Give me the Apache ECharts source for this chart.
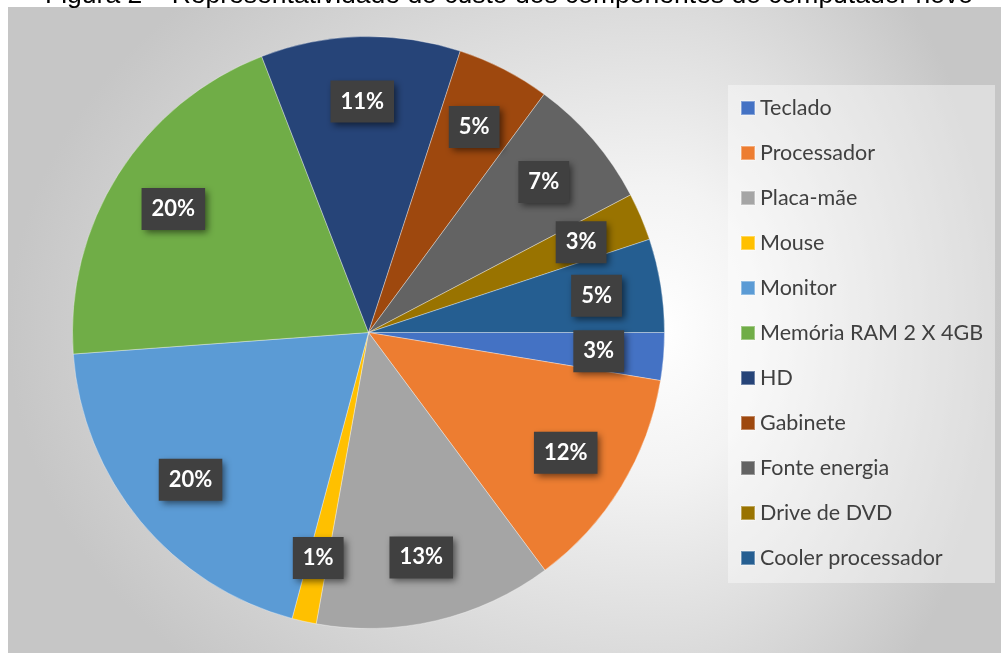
<!DOCTYPE html>
<html>
<head>
<meta charset="utf-8">
<script src="https://cdn.jsdelivr.net/npm/echarts@6/dist/echarts.min.js"></script>
<style>
html,body{margin:0;padding:0;background:#ffffff;}
#chart{width:1001px;height:653px;}
</style>
</head>
<body>
<div id="chart"></div>
<script>
const titleText = 'Figura 2 – Representatividade do custo dos componentes do computador novo';
const categories = ['Teclado', 'Processador', 'Placa-mãe', 'Mouse', 'Monitor', 'Memória RAM 2 X 4GB', 'HD', 'Gabinete', 'Fonte energia', 'Drive de DVD', 'Cooler processador'];
const shares = [2.6, 12.25, 13.0, 1.33, 19.7, 20.3, 10.9, 5.1, 7.2, 2.6, 5.1];
const colors = ['#4472C4', '#ED7D31', '#A5A5A5', '#FFC000', '#5B9BD5', '#70AD47', '#264478', '#9E480E', '#636363', '#997300', '#255E91'];

const pieData = categories.map((name, i) => ({ name: name, value: shares[i] }));

const chart = echarts.init(document.getElementById('chart'), null, { renderer: 'canvas' });

function bgGradient(cx) {
  return new echarts.graphic.RadialGradient(cx, 0.5, 1, [
    { offset: 0, color: '#ffffff' },
    { offset: 0.3, color: '#f3f3f3' },
    { offset: 1, color: '#c6c6c6' }
  ]);
}

const option = {
  animation: false,
  color: colors,
  title: {
    text: titleText,
    left: 45,
    top: -18,
    padding: 0,
    textStyle: { fontFamily: 'Liberation Sans', fontSize: 26.5, fontWeight: 'normal', color: '#000000' }
  },
  graphic: [
    {
      type: 'rect', x: 8, y: 7, scaleX: 652 / 480, z: -10, silent: true,
      shape: { x: 0, y: 0, width: 480, height: 646 },
      style: { fill: bgGradient(1) }
    },
    {
      type: 'rect', x: 660, y: 7, scaleX: 341 / 480, z: -10, silent: true,
      shape: { x: 0, y: 0, width: 480, height: 646 },
      style: { fill: bgGradient(0) }
    }
  ],
  legend: {
    orient: 'vertical',
    left: 728,
    top: 85,
    padding: [12, 12, 14, 12],
    itemWidth: 14,
    itemHeight: 14,
    itemGap: 23,
    icon: 'rect',
    backgroundColor: 'rgba(255,255,255,0.4)',
    textStyle: { fontFamily: 'Lato', fontSize: 21.5, color: '#404040', lineHeight: 22 },
    data: categories
  },
  series: [
    {
      type: 'pie',
      name: 'custo',
      center: [368.5, 332.5],
      radius: [0, 296],
      startAngle: 0,
      clockwise: true,
      avoidLabelOverlap: false,
      label: { show: false },
      labelLine: { show: false },
      itemStyle: { borderColor: 'rgba(255,255,255,0.35)', borderWidth: 1 },
      emphasis: { disabled: true },
      data: pieData
    },
    {
      type: 'pie',
      name: 'rotulos',
      silent: true,
      center: [368.5, 332.5],
      radius: [160, 296],
      startAngle: 0,
      clockwise: true,
      avoidLabelOverlap: false,
      itemStyle: { color: 'transparent', borderWidth: 0 },
      labelLine: { show: false },
      emphasis: { disabled: true },
      label: {
        show: true,
        position: 'inside',
        formatter: p => Math.round(p.percent) + '%',
        fontFamily: 'Lato',
        fontWeight: 'bold',
        fontSize: 22,
        lineHeight: 22,
        color: '#ffffff',
        backgroundColor: '#404040',
        padding: [10, 10],
        shadowColor: 'rgba(0,0,0,0.55)',
        shadowBlur: 7,
        shadowOffsetX: 3,
        shadowOffsetY: 3
      },
      data: pieData
    }
  ]
};
chart.setOption(option);
</script>
</body>
</html>
